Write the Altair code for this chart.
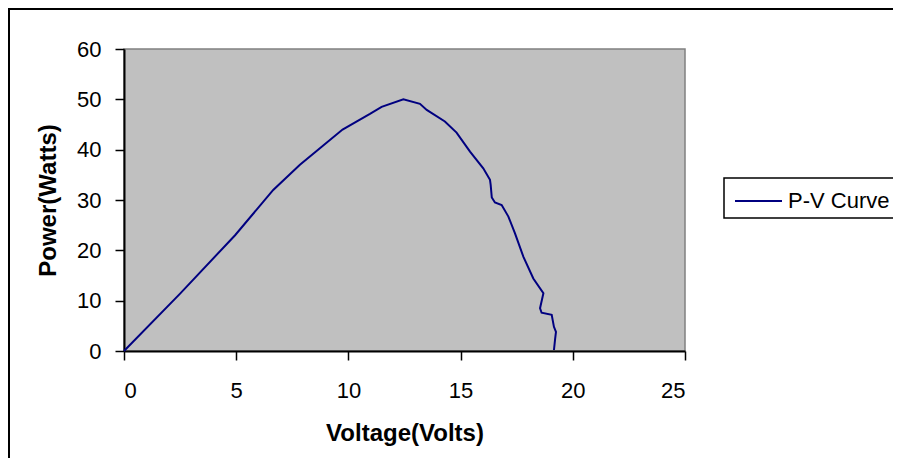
import altair as alt
import pandas as pd

# Data
voltage = [0, 2.5, 4.95, 6.65, 7.84, 8.73, 9.74, 10.96, 11.48, 12.45, 13.19, 13.49,
           14.3, 14.82, 15.42, 16.01, 16.31, 16.34, 16.39, 16.53, 16.83, 17.13,
           17.42, 17.8, 18.24, 18.69, 18.54, 18.61, 19.06, 19.16, 19.25, 19.21, 19.16]
power = [0, 11.4, 23.0, 32.0, 37.0, 40.3, 44.0, 47.1, 48.5, 50.0, 49.1, 47.9,
         45.6, 43.4, 39.6, 36.3, 34.0, 33.0, 30.5, 29.5, 29.0, 26.7,
         23.4, 18.7, 14.4, 11.5, 8.5, 7.6, 7.2, 4.8, 3.8, 2.3, 0.2]
x_ticks = [0, 5, 10, 15, 20, 25]
y_ticks = [0, 10, 20, 30, 40, 50, 60]
series_name = "P-V Curve"
line_color = "#000080"

df = pd.DataFrame({"V": voltage, "P": power, "i": list(range(len(voltage)))})

FONT = "Liberation Sans"
W, H = 561, 302
PAD_L, PAD_T = 116, 41
PAD_R, PAD_B = 208, 107

line = alt.Chart(df).mark_line(color=line_color, strokeWidth=2).encode(
    x=alt.X("V:Q", scale=alt.Scale(domain=[0, 25], nice=False),
            axis=alt.Axis(values=x_ticks, title="Voltage(Volts)", titleY=82,
                          titleBaseline="middle")),
    y=alt.Y("P:Q", scale=alt.Scale(domain=[0, 60], nice=False),
            axis=alt.Axis(values=y_ticks, title="Power(Watts)", titleX=-76,
                          titleBaseline="middle")),
    order=alt.Order("i:Q"),
)

one = alt.Data(values=[{"k": 0}])

legend_box = alt.Chart(one).mark_rect(fill="white", stroke="black", strokeWidth=1.5).encode(
    x=alt.value(600), x2=alt.value(800), y=alt.value(129), y2=alt.value(169)
)
legend_line = alt.Chart(one).mark_rule(color=line_color, strokeWidth=2).encode(
    x=alt.value(611), x2=alt.value(658), y=alt.value(152)
)
legend_text = alt.Chart(one).mark_text(
    text=series_name, font=FONT, fontSize=22, align="left", baseline="middle", color="black"
).encode(x=alt.value(664), y=alt.value(152))

border = alt.Chart(one).mark_rect(fill="transparent", stroke="black", strokeWidth=2).encode(
    x=alt.value(-115), x2=alt.value(900), y=alt.value(-40), y2=alt.value(600)
)

chart = alt.layer(line, legend_box, legend_line, legend_text, border).properties(
    width=W, height=H,
    autosize=alt.AutoSizeParams(type="none"),
    padding={"left": PAD_L, "top": PAD_T, "right": PAD_R, "bottom": PAD_B},
    background="white",
).configure_view(
    fill="#C0C0C0", stroke="#808080", strokeWidth=1.5
).configure_axis(
    domainColor="black", domainWidth=2, tickColor="black", tickWidth=1.5,
    tickSize=9, grid=False, labelFont=FONT, labelFontSize=22, labelColor="black",
    titleFont=FONT, titleFontSize=24, titleFontWeight="bold", titleColor="black",
).configure_axisX(
    labelPadding=20
).configure_axisY(
    labelPadding=14
)

chart.save("out.html", embed_options={"renderer": "svg", "actions": False})
